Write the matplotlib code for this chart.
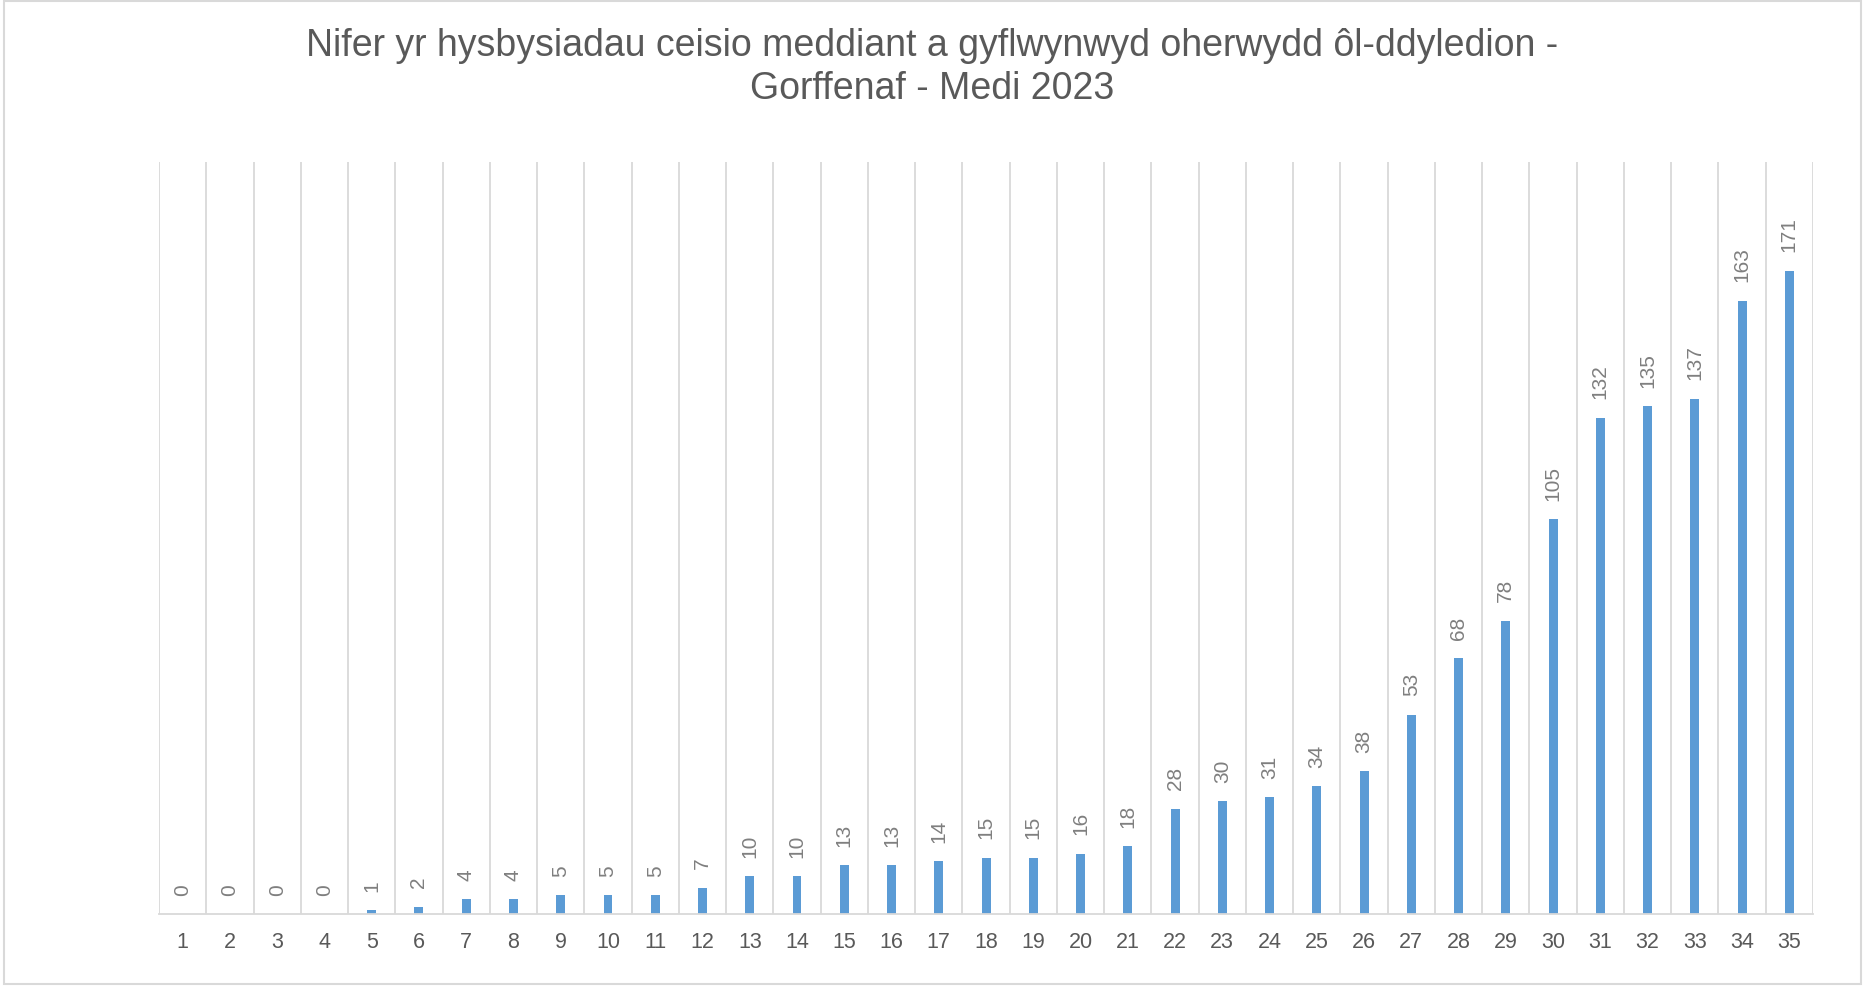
import matplotlib.pyplot as plt
from matplotlib.patches import Rectangle

plt.rcParams['font.family'] = ['Liberation Sans', 'DejaVu Sans']

# data
categories = [str(i) for i in range(1, 36)]
values = [0, 0, 0, 0, 1, 2, 4, 4, 5, 5, 5, 7, 10, 10, 13, 13, 14, 15, 15, 16,
          18, 28, 30, 31, 34, 38, 53, 68, 78, 105, 132, 135, 137, 163, 171]
title = "Nifer yr hysbysiadau ceisio meddiant a gyflwynwyd oherwydd ôl-ddyledion -\nGorffenaf - Medi 2023"

bar_color = "#5b9bd5"
grid_color = "#d9d9d9"
text_color = "#595959"

fig = plt.figure(figsize=(18.65, 9.87), dpi=100)
ax = fig.add_axes([0.0853, 0.0729, 0.8868, 0.7622])

x = list(range(len(categories)))
bars = ax.bar(x, values, width=0.19, color=bar_color, zorder=3)

# category separators
for b in range(len(categories) + 1):
    ax.axvline(b - 0.5, color=grid_color, lw=1.3, zorder=1)

for xi, v in zip(x, values):
    ax.annotate(str(v), (xi, v), xytext=(0, 14), textcoords='offset points',
                rotation=90, ha='center', va='bottom', fontsize=15, color="#7f7f7f")

ax.set_xlim(-0.5, len(categories) - 0.5)
ax.set_ylim(0, 200)
ax.set_xticks(x)
ax.set_xticklabels(categories)
ax.tick_params(axis='x', length=0, pad=12, labelsize=15.5, labelcolor=text_color)
ax.set_yticks([])
for s in ['left', 'right', 'top']:
    ax.spines[s].set_visible(False)
ax.spines['bottom'].set_color(grid_color)
ax.spines['bottom'].set_linewidth(1.3)
ax.spines['bottom'].set_zorder(4)

fig.text(0.5, 0.972, title, ha='center', va='top', fontsize=27,
         color=text_color, linespacing=1.27)

# light border around the chart area
fig.patches.append(Rectangle((0.002, 0.002), 0.996, 0.996, transform=fig.transFigure,
                             fill=False, edgecolor=grid_color, lw=1.5))

fig.savefig("out.png", dpi=100)
